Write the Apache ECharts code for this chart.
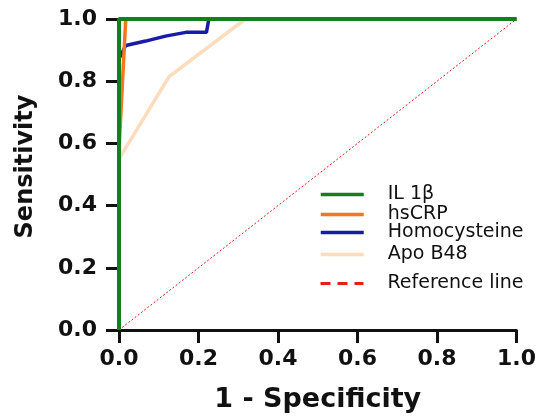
<!DOCTYPE html>
<html>
<head>
<meta charset="utf-8">
<script src="https://cdn.jsdelivr.net/npm/echarts@6/dist/echarts.min.js"></script>
<style>html,body{margin:0;padding:0;background:#fff}#c{width:539px;height:418px}</style>
</head>
<body>
<div id="c"></div>
<script>
// ROC curve data (1 - Specificity, Sensitivity)
const seriesNames = ['IL 1β', 'hsCRP', 'Homocysteine', 'Apo B48', 'Reference line'];
const il1bFpr = [0, 0, 1];
const il1bTpr = [0, 1, 1];
const hscrpFpr = [0, 0, 0.017, 1];
const hscrpTpr = [0, 0.58, 1, 1];
const homoFpr = [0, 0, 0.017, 0.067, 0.117, 0.168, 0.22, 0.226, 1];
const homoTpr = [0, 0.872, 0.915, 0.929, 0.945, 0.957, 0.957, 1, 1];
const apoFpr = [0, 0, 0.126, 0.318, 1];
const apoTpr = [0, 0.55, 0.815, 1, 1];
const refFpr = [0, 1];
const refTpr = [0, 1];
const tickLabels = ['0.0', '0.2', '0.4', '0.6', '0.8', '1.0'];

function pairs(xs, ys) { return xs.map((x, i) => [x, ys[i]]); }

const colors = {
  'IL 1β': '#15801a',
  'hsCRP': '#f5761c',
  'Homocysteine': '#1a1aa8',
  'Apo B48': '#fcdcbc',
  'Reference line': '#e41e1e'
};
const legendCenters = [195, 215, 233, 255, 284];
const fontFam = '"DejaVu Sans", "Liberation Sans", Arial, sans-serif';

const chart = echarts.init(document.getElementById('c'), null, { renderer: 'canvas' });

const legends = seriesNames.map((n, i) => ({
  data: [n],
  left: 319,
  top: legendCenters[i] - 10,
  padding: 0,
  itemWidth: 43,
  itemHeight: 14,
  itemStyle: { opacity: 0 },
  textStyle: { fontFamily: fontFam, fontSize: 19, color: '#111', padding: [0, 0, 0, 19] },
  lineStyle: n === 'Reference line' ? { type: [10, 7], width: 3, color: colors[n] } : { width: 3.5, color: colors[n] },
  selectedMode: false
}));

function lineSeries(name, xs, ys, width, type) {
  return {
    name: name,
    type: 'line',
    data: pairs(xs, ys),
    symbol: 'none',
    clip: false,
    animation: false,
    lineStyle: { color: colors[name], width: width, type: type || 'solid' },
    itemStyle: { color: colors[name] }
  };
}

const option = {
  backgroundColor: '#fff',
  animation: false,
  legend: legends,
  grid: { left: 119, right: 20, top: 19, bottom: 81, containLabel: false },
  xAxis: {
    type: 'value', min: 0, max: 1, interval: 0.2,
    name: '1 - Specificity', nameLocation: 'middle', nameGap: 56,
    nameTextStyle: { fontFamily: fontFam, fontWeight: 'bold', fontSize: 27, color: '#111' },
    axisLine: { show: true, lineStyle: { color: '#111', width: 3 } },
    axisTick: { show: true, length: 13, lineStyle: { color: '#111', width: 3 } },
    axisLabel: { margin: 18, fontFamily: fontFam, fontWeight: 'bold', fontSize: 22, color: '#111',
      formatter: v => tickLabels[Math.round(v * 5)] },
    splitLine: { show: false }
  },
  yAxis: {
    type: 'value', min: 0, max: 1, interval: 0.2,
    name: 'Sensitivity', nameLocation: 'middle', nameGap: 81, nameRotate: 90,
    nameTextStyle: { fontFamily: fontFam, fontWeight: 'bold', fontSize: 24, color: '#111', padding: [0, 0, 0, 16] },
    axisLine: { show: true, lineStyle: { color: '#111', width: 3 } },
    axisTick: { show: true, length: 13, lineStyle: { color: '#111', width: 3 } },
    axisLabel: { margin: 22, fontFamily: fontFam, fontWeight: 'bold', fontSize: 22, color: '#111',
      formatter: v => tickLabels[Math.round(v * 5)] },
    splitLine: { show: false }
  },
  series: [
    lineSeries('Reference line', refFpr, refTpr, 1, [2, 2]),
    lineSeries('Apo B48', apoFpr, apoTpr, 3.5),
    lineSeries('Homocysteine', homoFpr, homoTpr, 3.5),
    lineSeries('hsCRP', hscrpFpr, hscrpTpr, 3.5),
    lineSeries('IL 1β', il1bFpr, il1bTpr, 4)
  ]
};
chart.setOption(option);
</script>
</body>
</html>
